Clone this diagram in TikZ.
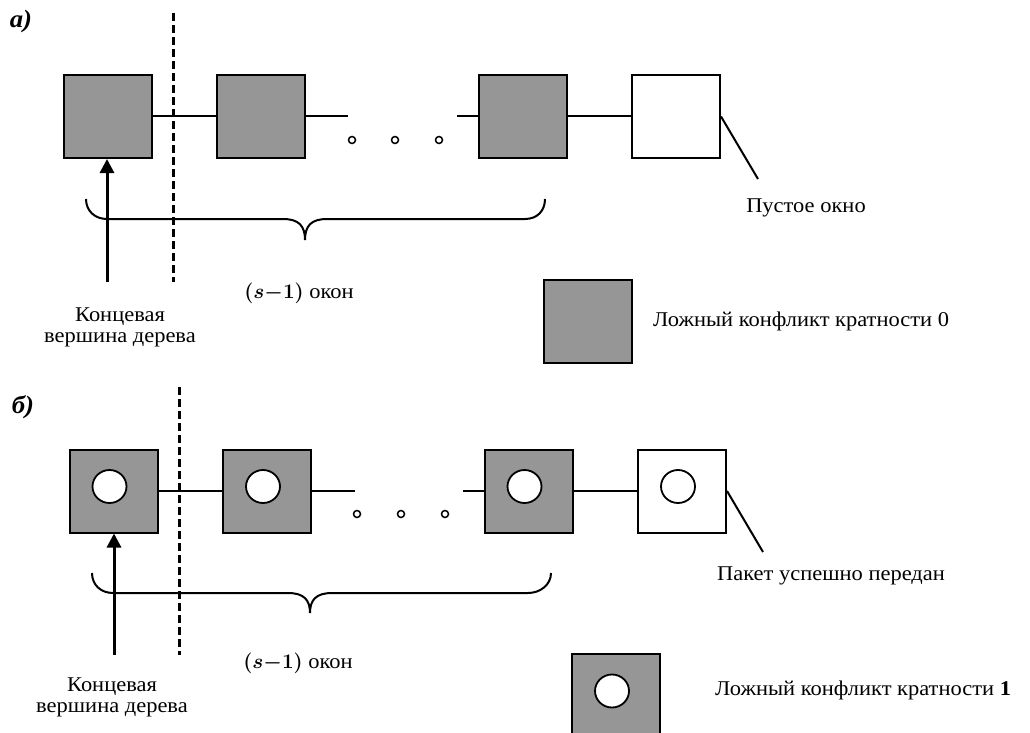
\documentclass[tikz,border=0pt]{standalone}
\usepackage{fontspec}
\setmainfont{Liberation Serif}[FakeStretch=1.07]
\usetikzlibrary{arrows.meta,shapes.geometric}
\definecolor{boxgray}{RGB}{150,150,150}
\begin{document}
\begin{tikzpicture}[x=1pt,y=-1pt,
  every node/.style={font=\fontsize{21}{24}\selectfont},
  win/.style={draw, line width=2pt, minimum width=88pt, minimum height=83pt, inner sep=0pt, fill=boxgray},
  emptywin/.style={win, fill=white},
  hole/.style={ellipse, draw, fill=white, line width=1.8pt, minimum width=34pt, minimum height=33pt, inner sep=0pt},
  dot/.style={circle, draw, line width=1.5pt, minimum size=7pt, inner sep=0pt},
  conn/.style={line width=2pt},
  divider/.style={line width=3pt, dash pattern=on 8pt off 4pt},
  leafarrow/.style={line width=3pt, -{Triangle[width=14pt,length=14pt]}},
  bracepath/.style={line width=2pt},
  txt/.style={inner sep=0pt},
  panellabel/.style={txt, font=\fontsize{25}{26}\selectfont\bfseries\itshape}
]
\useasboundingbox (0,0) rectangle (1030,733);
\fill[white] (0,0) rectangle (1030,733);

% ---------------- panel a ----------------
\node[panellabel] (la) at (21,21) {a)};
\node[win] (a1) at (108,116.5) {};
\node[win] (a2) at (260.5,116.5) {};
\node[win] (a3) at (523,116.5) {};
\node[emptywin] (a4) at (676,116.5) {};
\coordinate (a2r) at (348,116.5);
\coordinate (a3l) at (457,116.5);
\draw[conn] (a1.east) -- (a2.west);
\draw[conn] (a2.east) -- (a2r);
\draw[conn] (a3l) -- (a3.west);
\draw[conn] (a3.east) -- (a4.west);
\node[dot] (ad1) at (352,140) {};
\node[dot] (ad2) at (395,140) {};
\node[dot] (ad3) at (439,140) {};
\coordinate (aline) at (758,179);
\draw[conn] (a4.east) -- (aline);
\node[txt] (aempty) at (806,208) {Пустое окно};
\coordinate (adt) at (173,13);
\coordinate (adb) at (173,282);
\draw[divider] (adt) -- (adb);
\coordinate (aarr) at (107,282);
\draw[leafarrow] (aarr) -- (aarr |- a1.south);
\draw[bracepath] (86,199) .. controls (86,211) and (95,219) .. (107,219)
  -- (283,219) .. controls (299,219) and (305,226) .. (305,240)
  .. controls (305,226) and (311,219) .. (327,219)
  -- (525,219) .. controls (537,219) and (545,211) .. (545,199);
\node[txt] (acount) at (299,293) {{\boldmath$(s{-}1)$} окон};
\node[txt, align=center, font=\fontsize{21}{21}\selectfont] (aleaf) at (120,327) {Концевая\\вершина дерева};
\node[win] (aleg) at (588,321) {};
\node[txt, anchor=west] (alegt) at (653,321) {Ложный конфликт кратности 0};

% ---------------- panel b ----------------
\node[panellabel] (lb) at (23,407) {б)};
\node[win] (b1) at (113.5,491) {};
\node[win] (b2) at (267,491) {};
\node[win] (b3) at (528.5,491) {};
\node[emptywin] (b4) at (682,491) {};
\foreach \b in {b1,b2,b3,b4}{
  \node[hole] (\b h) at ([shift={(-4,-4.5)}]\b.center) {};
}
\coordinate (b2r) at (355,491);
\coordinate (b3l) at (463,491);
\draw[conn] (b1.east) -- (b2.west);
\draw[conn] (b2.east) -- (b2r);
\draw[conn] (b3l) -- (b3.west);
\draw[conn] (b3.east) -- (b4.west);
\node[dot] (bd1) at (357,514) {};
\node[dot] (bd2) at (401,514) {};
\node[dot] (bd3) at (445,514) {};
\coordinate (bline) at (763,552);
\draw[conn] (b4.east) -- (bline);
\node[txt] (bok) at (831,576) {Пакет успешно передан};
\coordinate (bdt) at (179,387);
\coordinate (bdb) at (179,655);
\draw[divider] (bdt) -- (bdb);
\coordinate (barr) at (114,655);
\draw[leafarrow] (barr) -- (barr |- b1.south);
\draw[bracepath] (92,573) .. controls (92,585) and (101,593) .. (113,593)
  -- (288,593) .. controls (304,593) and (310,600) .. (310,613)
  .. controls (310,600) and (316,593) .. (332,593)
  -- (528,593) .. controls (540,593) and (551,585) .. (551,573);
\node[txt] (bcount) at (298,663) {{\boldmath$(s{-}1)$} окон};
\node[txt, align=center, font=\fontsize{21}{21}\selectfont] (bleaf) at (112,697) {Концевая\\вершина дерева};
\node[win] (bleg) at (616,695.5) {};
\node[hole] (bleghole) at ([shift={(-4,-4.5)}]bleg.center) {};
\node[txt, anchor=west] (blegt) at (715,690) {Ложный конфликт кратности \textbf{1}};
\end{tikzpicture}
\end{document}
